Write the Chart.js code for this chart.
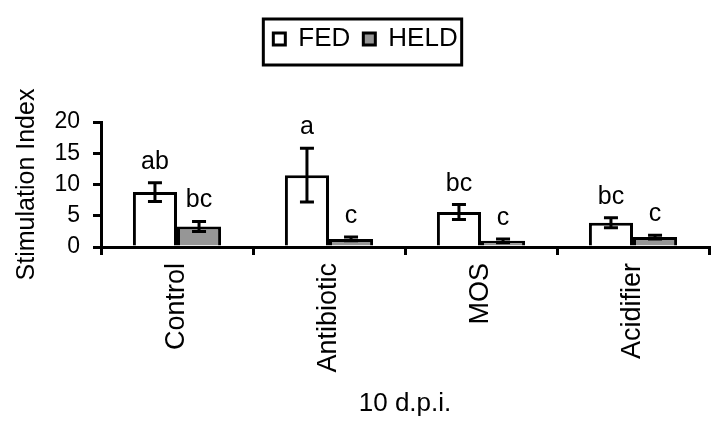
<!DOCTYPE html>
<html>
<head>
<meta charset="utf-8">
<script src="https://cdn.jsdelivr.net/npm/chart.js@4/dist/chart.umd.min.js"></script>
<style>
  html, body { margin: 0; padding: 0; background: #fff; }
  #wrap { width: 727px; height: 431px; }
</style>
</head>
<body>
<div id="wrap"><canvas id="chart" width="727" height="431"></canvas></div>
<script>
const categories = ['Control', 'Antibiotic', 'MOS', 'Acidifier'];
const fedValues = [8.8, 11.5, 5.6, 3.9];
const fedErrors = [1.5, 4.3, 1.2, 0.8];
const heldValues = [3.3, 1.3, 1.0, 1.6];
const heldErrors = [0.8, 0.3, 0.3, 0.3];
const fedLetters = ['ab', 'a', 'bc', 'bc'];
const heldLetters = ['bc', 'c', 'c', 'c'];
const yTicks = [0, 5, 10, 15, 20];

const FONT = '"Liberation Sans", Arial, sans-serif';
const LEGEND_SHIFT = 11;

// error bars + significance letters
const errorBarsPlugin = {
  id: 'errorBars',
  afterDatasetsDraw(chart) {
    const ctx = chart.ctx;
    const y = chart.scales.y;
    ctx.save();
    chart.data.datasets.forEach((ds, i) => {
      const meta = chart.getDatasetMeta(i);
      meta.data.forEach((bar, j) => {
        const v = ds.data[j];
        const e = ds.errors[j];
        const top = y.getPixelForValue(v + e);
        const bot = y.getPixelForValue(v - e);
        ctx.strokeStyle = '#000';
        ctx.lineWidth = 3;
        ctx.beginPath();
        ctx.moveTo(bar.x, top); ctx.lineTo(bar.x, bot);
        ctx.moveTo(bar.x - 7, top); ctx.lineTo(bar.x + 7, top);
        ctx.moveTo(bar.x - 7, bot); ctx.lineTo(bar.x + 7, bot);
        ctx.stroke();
        ctx.fillStyle = '#000';
        ctx.font = '25px ' + FONT;
        ctx.textAlign = 'center';
        ctx.textBaseline = 'alphabetic';
        ctx.fillText(ds.letters[j], bar.x, top - 14);
      });
    });
    ctx.restore();
  }
};

// legend takes the space above the plot; frame drawn round its items
const legendBoxPlugin = {
  id: 'legendBox',
  beforeInit(chart) {
    const lg = chart.legend;
    const origFit = lg.fit;
    lg.fit = function () {
      origFit.bind(lg)();
      this.height = 109;
    };
    const origDraw = lg.draw;
    lg.draw = function () {
      const ctx = chart.ctx;
      ctx.save();
      ctx.translate(LEGEND_SHIFT, 0);
      origDraw.bind(lg)();
      ctx.restore();
    };
  },
  afterDraw(chart) {
    const lg = chart.legend;
    if (!lg || !lg.legendHitBoxes.length) return;
    const boxes = lg.legendHitBoxes;
    const last = boxes[boxes.length - 1];
    const left = boxes[0].left - 10 + LEGEND_SHIFT;
    const right = last.left + last.width + 4 + LEGEND_SHIFT;
    const ctx = chart.ctx;
    ctx.save();
    ctx.strokeStyle = '#000';
    ctx.lineWidth = 3;
    ctx.strokeRect(left, 19, right - left, 46);
    ctx.restore();
  }
};

new Chart(document.getElementById('chart'), {
  type: 'bar',
  data: {
    labels: categories,
    datasets: [
      {
        label: 'FED',
        data: fedValues,
        errors: fedErrors,
        letters: fedLetters,
        backgroundColor: '#ffffff',
        borderColor: '#000000',
        borderWidth: 3,
        categoryPercentage: 0.58,
        barPercentage: 1.0
      },
      {
        label: 'HELD',
        data: heldValues,
        errors: heldErrors,
        letters: heldLetters,
        backgroundColor: '#969696',
        borderColor: '#000000',
        borderWidth: 3,
        categoryPercentage: 0.58,
        barPercentage: 1.0
      }
    ]
  },
  options: {
    responsive: false,
    animation: false,
    layout: { padding: { top: 13, right: 18, left: 0, bottom: 0 } },
    plugins: {
      legend: {
        display: true,
        position: 'top',
        labels: {
          color: '#000',
          font: { family: FONT, size: 26 },
          boxWidth: 12,
          boxHeight: 12,
          padding: 13
        }
      },
      tooltip: { enabled: false }
    },
    scales: {
      x: {
        offset: true,
        afterFit(scale) { scale.height = 184; },
        grid: {
          display: true,
          offset: true,
          drawOnChartArea: false,
          drawTicks: true,
          tickLength: 8,
          color: '#000',
          lineWidth: 3
        },
        border: { display: true, color: '#000', width: 3 },
        ticks: {
          color: '#000',
          font: { family: FONT, size: 27 },
          minRotation: 90,
          maxRotation: 90,
          padding: 8
        },
        title: {
          display: true,
          text: '10 d.p.i.',
          color: '#000',
          font: { family: FONT, size: 26 },
          padding: { top: 0, bottom: 12 }
        }
      },
      y: {
        min: 0,
        max: 20,
        afterFit(scale) { scale.width = 101; },
        afterBuildTicks(axis) {
          axis.ticks = yTicks.map(v => ({ value: v }));
        },
        grid: {
          display: true,
          drawOnChartArea: false,
          drawTicks: true,
          tickLength: 8,
          color: '#000',
          lineWidth: 3
        },
        border: { display: true, color: '#000', width: 3 },
        ticks: {
          color: '#000',
          font: { family: FONT, size: 23 },
          padding: 13
        },
        title: {
          display: true,
          text: 'Stimulation Index',
          color: '#000',
          font: { family: FONT, size: 25 },
          padding: { top: 12, bottom: 0 }
        }
      }
    }
  },
  plugins: [errorBarsPlugin, legendBoxPlugin]
});
</script>
</body>
</html>
